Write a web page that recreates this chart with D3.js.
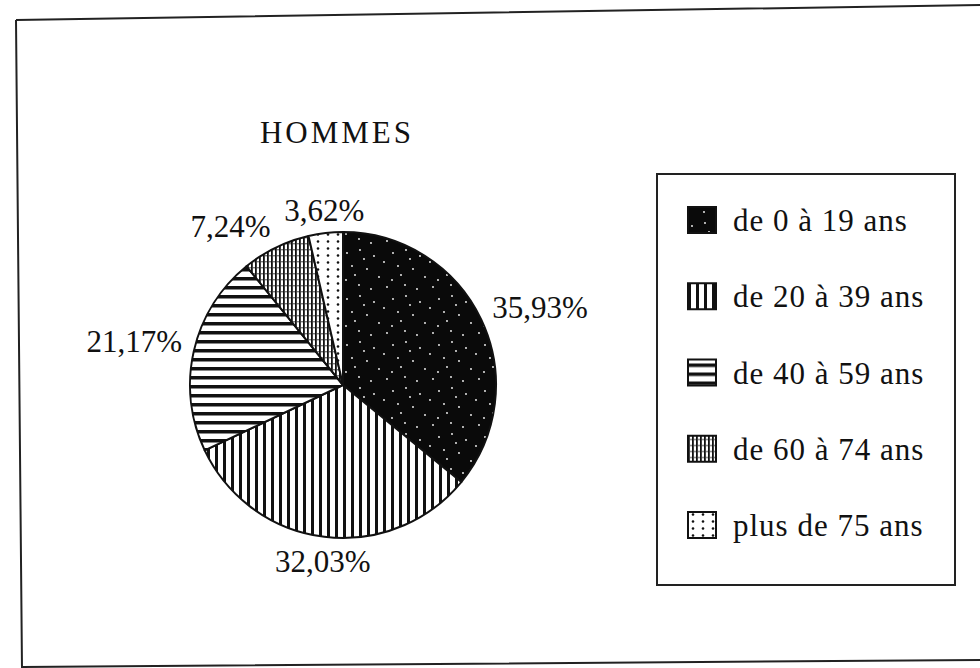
<!DOCTYPE html>
<html>
<head>
<meta charset="utf-8">
<script src="https://cdn.jsdelivr.net/npm/d3@7"></script>
<style>
  body { margin: 0; background: #fff; }
  svg text { font-family: "Liberation Serif", "DejaVu Serif", serif; fill: #111; }
</style>
</head>
<body>
<svg id="chart" width="980" height="668"></svg>
<script>
// data
const title = "HOMMES";
const categories = ["de 0 à 19 ans", "de 20 à 39 ans", "de 40 à 59 ans", "de 60 à 74 ans", "plus de 75 ans"];
const values = [35.93, 32.03, 21.17, 7.24, 3.62];
const valueLabels = ["35,93%", "32,03%", "21,17%", "7,24%", "3,62%"];
const patternIds = ["speckle", "vlines", "hlines", "dense", "dots"];

const width = 980, height = 668;
const svg = d3.select("#chart");
const defs = svg.append("defs");

// --- hatch patterns (scanned black & white chart) ---
function pat(id, w, h) {
  const p = defs.append("pattern").attr("id", id)
    .attr("patternUnits", "userSpaceOnUse")
    .attr("width", w).attr("height", h);
  return p;
}

// black with sparse white speckles
let p = pat("speckle", 46, 46);
p.append("rect").attr("width", 46).attr("height", 46).attr("fill", "#0a0a0a");
[[4,6],[17,3],[31,9],[41,15],[9,19],[24,22],[36,30],[3,33],[16,38],[28,42],[44,40],[21,12],[12,28]]
  .forEach(([x, y]) => p.append("circle").attr("cx", x).attr("cy", y).attr("r", 0.9).attr("fill", "#fff"));

// vertical stripes
p = pat("vlines", 8, 8);
p.append("rect").attr("width", 8).attr("height", 8).attr("fill", "#fff");
p.append("rect").attr("width", 3).attr("height", 8).attr("fill", "#111");

// horizontal stripes
p = pat("hlines", 9, 9);
p.append("rect").attr("width", 9).attr("height", 9).attr("fill", "#fff");
p.append("rect").attr("width", 9).attr("height", 3.5).attr("fill", "#111");

// dense fine vertical texture
p = pat("dense", 4, 6);
p.append("rect").attr("width", 4).attr("height", 6).attr("fill", "#fff");
p.append("rect").attr("width", 1.8).attr("height", 6).attr("fill", "#111");
p.append("rect").attr("x", 2.4).attr("y", 2).attr("width", 1.2).attr("height", 1.4).attr("fill", "#222");

// dots
p = pat("dots", 10, 7);
p.append("rect").attr("width", 10).attr("height", 7).attr("fill", "#fff");
p.append("circle").attr("cx", 5).attr("cy", 3.5).attr("r", 1.3).attr("fill", "#111");

// --- outer (slightly skewed) frame of the scan ---
svg.append("path")
  .attr("d", "M16,20 L980,5 M16,20 L22,668 M22,667 L980,660")
  .attr("fill", "none").attr("stroke", "#222").attr("stroke-width", 2);

// --- title ---
svg.append("text")
  .attr("x", 337).attr("y", 143)
  .attr("text-anchor", "middle")
  .attr("font-size", 31)
  .attr("letter-spacing", 3)
  .text(title);

// --- pie ---
const cx = 343, cy = 385, r = 153;
const g = svg.append("g").attr("transform", `translate(${cx},${cy})`);

const pie = d3.pie().sort(null).value(d => d);
const arcs = pie(values);
const arc = d3.arc().innerRadius(0).outerRadius(r);

g.selectAll("path.slice")
  .data(arcs)
  .join("path")
  .attr("class", "slice")
  .attr("d", arc)
  .attr("fill", (d, i) => `url(#${patternIds[i]})`)
  .attr("stroke", "#111")
  .attr("stroke-width", 2)
  .attr("stroke-linejoin", "round");

// labels placed just outside the rim at each slice's middle angle
const labelR = r + 12;
g.selectAll("text.pct")
  .data(arcs)
  .join("text")
  .attr("class", "pct")
  .attr("font-size", 31)
  .attr("x", d => Math.sin((d.startAngle + d.endAngle) / 2) * labelR)
  .attr("y", d => -Math.cos((d.startAngle + d.endAngle) / 2) * labelR)
  .attr("text-anchor", d => {
    const s = Math.sin((d.startAngle + d.endAngle) / 2);
    return s > 0.3 ? "start" : s < -0.3 ? "end" : "middle";
  })
  .attr("dy", d => {
    const a = (d.startAngle + d.endAngle) / 2;
    const s = Math.sin(a), c = Math.cos(a);
    if (Math.abs(s) > 0.3 && Math.abs(c) < 0.5) return "0.1em";
    return c > 0 ? "0" : "0.75em";
  })
  .text((d, i) => valueLabels[i]);

// --- legend ---
const legend = svg.append("g");
legend.append("rect")
  .attr("x", 657).attr("y", 174)
  .attr("width", 298).attr("height", 411)
  .attr("fill", "none").attr("stroke", "#222").attr("stroke-width", 2);

const ly = d3.scalePoint().domain(categories).range([220, 525]);

const items = legend.selectAll("g.item")
  .data(categories)
  .join("g")
  .attr("class", "item")
  .attr("transform", d => `translate(688,${ly(d)})`);

items.append("rect")
  .attr("x", 0).attr("y", -13)
  .attr("width", 28).attr("height", 26)
  .attr("fill", (d, i) => `url(#${patternIds[i]})`)
  .attr("stroke", "#111").attr("stroke-width", 2);

items.append("text")
  .attr("x", 45).attr("y", 11)
  .attr("font-size", 31)
  .attr("letter-spacing", 1)
  .text(d => d);
</script>
</body>
</html>
